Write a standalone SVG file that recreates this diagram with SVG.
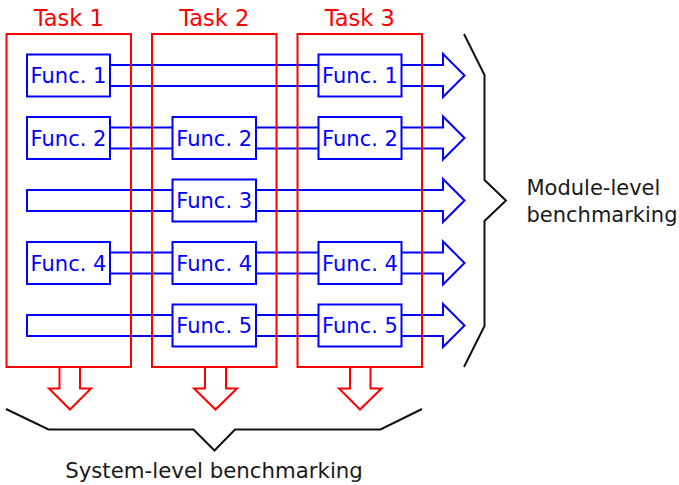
<svg xmlns="http://www.w3.org/2000/svg" width="679" height="485" viewBox="0 0 679 485">
<style>
.flow{fill:#fff;stroke:#0000ff;stroke-width:2;stroke-linejoin:miter}
.fbox{fill:#fff;stroke:#0000ff;stroke-width:2}
.ftxt{font-family:"DejaVu Sans",sans-serif;font-size:21px;fill:#0000ff;text-anchor:middle}
.task{fill:none;stroke:#ff0000;stroke-width:2}
.ttxt{font-family:"DejaVu Sans",sans-serif;font-size:22.5px;fill:#ff0000;text-anchor:middle}
.down{fill:#fff;stroke:#ff0000;stroke-width:2}
.brace{fill:none;stroke:#111;stroke-width:2}
.lbl{font-family:"DejaVu Sans",sans-serif;font-size:21px;fill:#1a1a1a}
</style>
<g id="connectors">
<polygon class="flow" points="27,65 443,65 443,54 464.5,75.5 443,97 443,86 27,86"/>
<polygon class="flow" points="27,127.5 443,127.5 443,116.5 464.5,138 443,159.5 443,148.5 27,148.5"/>
<polygon class="flow" points="27,190 443,190 443,179 464.5,200.5 443,222 443,211 27,211"/>
<polygon class="flow" points="27,252.5 443,252.5 443,241.5 464.5,263 443,284.5 443,273.5 27,273.5"/>
<polygon class="flow" points="27,315 443,315 443,304 464.5,325.5 443,347 443,336 27,336"/>
<polygon class="down" points="59.5,367 80,367 80,388.5 91,388.5 70,409.5 49,388.5 59.5,388.5"/>
<polygon class="down" points="205,367 226,367 226,388.5 237,388.5 215.5,409.5 194,388.5 205,388.5"/>
<polygon class="down" points="350,367 370.5,367 370.5,388.5 381.5,388.5 360,409.5 339,388.5 350,388.5"/>
</g>
<g id="t1f1"><rect class="fbox" x="27" y="54.5" width="83" height="42"/><text class="ftxt" x="68.5" y="83">Func. 1</text></g>
<g id="t3f1"><rect class="fbox" x="318.5" y="54.5" width="83" height="42"/><text class="ftxt" x="360" y="83">Func. 1</text></g>
<g id="t1f2"><rect class="fbox" x="27" y="117" width="83" height="42"/><text class="ftxt" x="68.5" y="145.5">Func. 2</text></g>
<g id="t2f2"><rect class="fbox" x="172.5" y="117" width="83.5" height="42"/><text class="ftxt" x="214.2" y="145.5">Func. 2</text></g>
<g id="t3f2"><rect class="fbox" x="318.5" y="117" width="83" height="42"/><text class="ftxt" x="360" y="145.5">Func. 2</text></g>
<g id="t2f3"><rect class="fbox" x="172.5" y="179.5" width="83.5" height="42"/><text class="ftxt" x="214.2" y="208">Func. 3</text></g>
<g id="t1f4"><rect class="fbox" x="27" y="242" width="83" height="42"/><text class="ftxt" x="68.5" y="270.5">Func. 4</text></g>
<g id="t2f4"><rect class="fbox" x="172.5" y="242" width="83.5" height="42"/><text class="ftxt" x="214.2" y="270.5">Func. 4</text></g>
<g id="t3f4"><rect class="fbox" x="318.5" y="242" width="83" height="42"/><text class="ftxt" x="360" y="270.5">Func. 4</text></g>
<g id="t2f5"><rect class="fbox" x="172.5" y="304.5" width="83.5" height="42"/><text class="ftxt" x="214.2" y="333">Func. 5</text></g>
<g id="t3f5"><rect class="fbox" x="318.5" y="304.5" width="83" height="42"/><text class="ftxt" x="360" y="333">Func. 5</text></g>
<g id="task1"><rect class="task" x="6.5" y="34" width="124.5" height="333"/><text class="ttxt" x="68.75" y="26">Task 1</text></g>
<g id="task2"><rect class="task" x="152" y="34" width="124.5" height="333"/><text class="ttxt" x="214.25" y="26">Task 2</text></g>
<g id="task3"><rect class="task" x="297.5" y="34" width="124.5" height="333"/><text class="ttxt" x="359.75" y="26">Task 3</text></g>
<g id="module-level">
<polyline class="brace" points="464,34 484.5,75 484.5,180 506,200.5 484.5,221 484.5,326 464,367"/>
<text class="lbl" x="526.5" y="195">Module-level</text>
<text class="lbl" x="526.5" y="221.5">benchmarking</text>
</g>
<g id="system-level">
<polyline class="brace" points="6,409 48.5,429.5 193.5,429.5 214.5,450.5 235,429.5 380.5,429.5 422,409"/>
<text class="lbl" x="214" y="478" text-anchor="middle" style="font-size:21.3px">System-level benchmarking</text>
</g>
</svg>
